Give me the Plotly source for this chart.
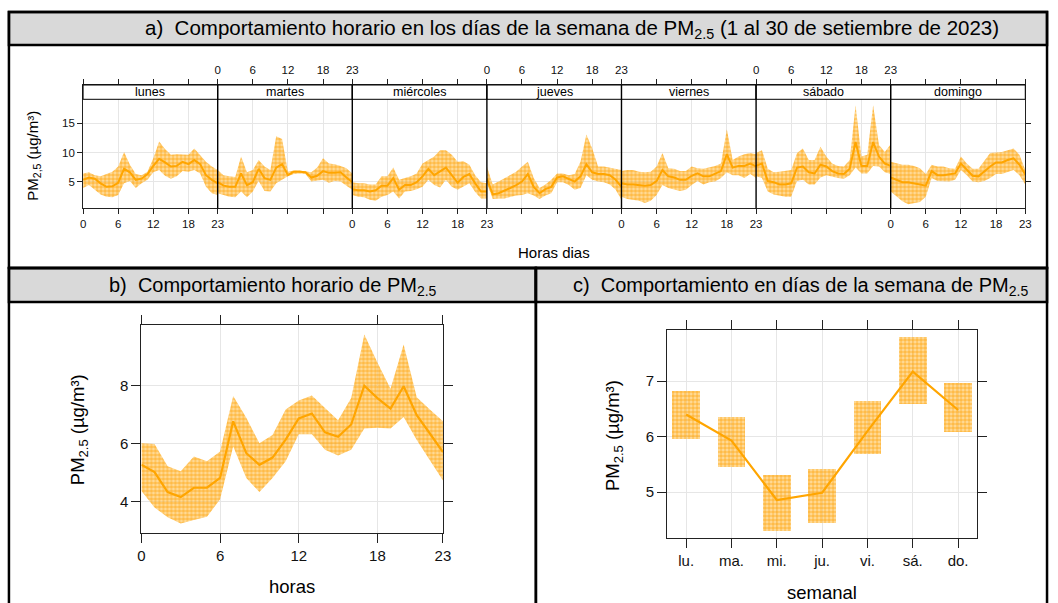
import plotly.graph_objects as go

# ---------------- data ----------------
horas = list(range(24))
dias_semana = ["lunes", "martes", "miércoles", "jueves", "viernes", "sábado", "domingo"]
tick_horas = [0, 6, 12, 18, 23]

lunes_mean = [5.3, 5.7, 5.5, 4.7, 4.1, 4.2, 4.8, 7.2, 6.6, 5.3, 5.5, 6.3, 7.7, 8.9, 8.3, 7.6, 7.7, 8.4, 8.0, 8.7, 8.0, 6.1, 5.3, 4.7]
lunes_low = [3.9, 4.4, 3.6, 2.8, 2.4, 2.3, 2.7, 4.7, 5.1, 3.9, 4.7, 5.3, 6.6, 7.0, 6.0, 5.5, 5.9, 6.8, 6.7, 7.0, 6.4, 4.1, 3.0, 2.7]
lunes_high = [6.4, 6.6, 6.1, 5.9, 6.3, 6.7, 7.6, 10.1, 7.9, 6.3, 6.1, 6.7, 9.0, 11.9, 10.6, 9.6, 9.7, 9.7, 9.6, 10.7, 9.6, 8.4, 7.6, 7.0]

martes_mean = [4.9, 4.3, 4.1, 4.1, 6.4, 4.4, 4.9, 7.2, 5.6, 5.3, 7.4, 8.0, 6.1, 6.7, 6.7, 6.6, 5.7, 6.0, 6.8, 6.5, 6.5, 6.6, 5.7, 4.9]
martes_low = [3.0, 2.7, 2.4, 2.3, 3.3, 2.3, 3.3, 5.1, 3.4, 3.3, 4.7, 5.3, 5.9, 6.3, 6.4, 6.3, 5.0, 5.1, 5.3, 4.8, 5.1, 5.0, 4.3, 3.6]
martes_high = [7.0, 6.1, 5.9, 5.8, 9.3, 6.6, 7.0, 8.7, 7.6, 7.0, 12.8, 12.3, 6.7, 6.9, 6.9, 6.8, 6.6, 7.4, 9.0, 8.1, 8.0, 7.7, 7.3, 6.4]

miercoles_mean = [3.7, 3.5, 3.5, 3.3, 3.5, 4.3, 4.3, 5.6, 3.6, 4.4, 4.4, 4.9, 5.9, 7.2, 6.1, 6.7, 7.4, 6.1, 4.8, 5.8, 6.3, 4.7, 3.3, 3.3]
miercoles_low = [2.7, 2.4, 2.3, 1.9, 1.7, 2.4, 2.7, 3.3, 2.1, 3.3, 3.4, 3.7, 4.1, 5.3, 4.4, 4.0, 5.3, 4.1, 3.6, 4.1, 4.7, 3.2, 2.1, 2.1]
miercoles_high = [4.9, 4.7, 4.7, 4.5, 4.5, 5.9, 5.9, 7.4, 5.3, 5.6, 5.9, 6.4, 8.1, 8.7, 9.3, 10.4, 10.4, 9.6, 8.4, 8.5, 7.9, 6.1, 4.9, 4.7]

jueves_mean = [5.5, 2.8, 3.0, 3.4, 3.9, 4.4, 5.0, 6.3, 4.1, 3.0, 3.7, 4.1, 5.7, 5.9, 5.5, 5.0, 5.9, 8.0, 6.6, 6.3, 6.3, 6.1, 5.3, 4.1]
jueves_low = [4.7, 2.0, 2.1, 2.1, 2.4, 2.6, 2.7, 3.0, 2.6, 2.0, 2.6, 3.0, 4.9, 4.9, 4.4, 3.6, 3.9, 6.1, 5.3, 5.0, 4.9, 4.5, 3.6, 1.9]
jueves_high = [7.6, 4.5, 5.0, 5.6, 6.1, 6.7, 7.6, 8.4, 5.6, 3.9, 4.5, 5.3, 6.4, 6.4, 6.1, 6.3, 8.4, 13.1, 10.7, 7.6, 7.6, 7.4, 7.2, 7.0]

viernes_mean = [4.7, 4.5, 4.5, 4.4, 4.3, 4.4, 5.1, 7.0, 5.9, 5.7, 5.3, 5.3, 6.0, 6.4, 5.9, 5.9, 6.3, 6.8, 9.7, 7.4, 7.7, 7.7, 8.1, 7.6]
viernes_low = [2.4, 2.0, 1.9, 1.7, 1.3, 1.7, 2.7, 4.4, 3.9, 3.7, 3.4, 3.6, 4.4, 5.1, 4.5, 4.9, 5.0, 5.6, 6.6, 6.1, 6.1, 5.6, 6.3, 5.6]
viernes_high = [6.8, 7.0, 7.0, 6.7, 6.6, 6.7, 7.6, 9.9, 7.3, 7.2, 6.8, 6.8, 7.6, 7.3, 7.2, 7.4, 7.7, 8.1, 14.0, 8.7, 9.3, 9.7, 9.9, 9.7]

sabado_mean = [7.7, 8.1, 5.1, 4.9, 4.5, 4.5, 4.7, 7.4, 7.6, 6.6, 6.4, 7.9, 7.6, 6.8, 6.4, 6.3, 7.2, 11.8, 7.7, 7.7, 11.8, 9.3, 8.1, 7.7]
sabado_low = [5.9, 5.6, 3.3, 2.8, 2.6, 2.4, 2.4, 5.1, 5.3, 4.5, 4.5, 5.7, 6.1, 5.9, 5.6, 5.5, 6.1, 7.4, 6.4, 6.4, 7.7, 7.6, 6.6, 6.3]
sabado_high = [9.9, 10.4, 7.2, 6.6, 6.7, 6.8, 7.0, 9.9, 10.7, 8.7, 8.7, 11.0, 9.3, 8.1, 7.7, 7.6, 8.7, 18.1, 9.3, 9.6, 18.1, 11.3, 10.1, 11.4]

domingo_mean = [5.7, 5.3, 4.9, 4.9, 4.7, 4.4, 4.3, 6.8, 6.1, 6.1, 6.3, 6.4, 8.1, 7.0, 6.0, 5.9, 6.8, 7.6, 8.3, 8.3, 8.7, 9.0, 7.9, 6.2]
domingo_low = [3.3, 2.4, 1.6, 1.1, 1.3, 1.5, 2.4, 5.6, 5.1, 5.0, 5.0, 5.3, 7.0, 6.1, 5.0, 4.9, 5.1, 5.6, 6.3, 6.3, 6.6, 7.0, 6.1, 4.5]
domingo_high = [8.4, 8.1, 7.9, 7.9, 7.7, 7.3, 6.3, 7.9, 7.6, 7.6, 7.3, 7.2, 9.3, 8.1, 7.2, 7.2, 8.5, 9.9, 10.0, 10.1, 10.4, 10.7, 9.6, 7.0]

hora_mean = [5.28, 5.03, 4.34, 4.17, 4.49, 4.49, 4.83, 6.78, 5.68, 5.28, 5.53, 6.15, 6.88, 7.05, 6.40, 6.25, 6.67, 8.01, 7.58, 7.22, 7.99, 6.99, 6.36, 5.72]
hora_low = [4.38, 3.81, 3.47, 3.26, 3.38, 3.49, 4.09, 5.91, 4.83, 4.34, 4.83, 5.40, 6.33, 6.33, 5.80, 5.60, 5.80, 6.53, 6.56, 6.53, 6.93, 6.14, 5.45, 4.74]
hora_high = [6.02, 6.00, 5.23, 5.06, 5.57, 5.40, 5.74, 7.65, 6.90, 6.02, 6.31, 7.19, 7.50, 7.67, 7.24, 6.82, 7.58, 9.77, 8.81, 7.90, 9.43, 7.61, 7.19, 6.78]

dias_abrev = ["lu.", "ma.", "mi.", "ju.", "vi.", "sá.", "do."]
dia_mean = [6.40, 5.93, 4.86, 4.99, 6.10, 7.17, 6.48]
dia_low = [5.96, 5.45, 4.31, 4.44, 5.68, 6.59, 6.09]
dia_high = [6.83, 6.35, 5.31, 5.42, 6.64, 7.79, 6.96]

semana_mean = [lunes_mean, martes_mean, miercoles_mean, jueves_mean, viernes_mean, sabado_mean, domingo_mean]
semana_low = [lunes_low, martes_low, miercoles_low, jueves_low, viernes_low, sabado_low, domingo_low]
semana_high = [lunes_high, martes_high, miercoles_high, jueves_high, viernes_high, sabado_high, domingo_high]

# ---------------- styling / layout helpers ----------------
W, H = 1058, 603


def fx(p):
    return p / W


def fy(p):
    return 1 - p / H


FONT = "Arial, 'Liberation Sans', sans-serif"
NARANJA = "#FFA500"
GRID = "#e6e6e6"
AXC = "#222222"
RELLENO = "rgba(255,185,60,0.55)"
PATRON = dict(shape="+", fgcolor="rgba(255,160,0,0.95)", bgcolor=RELLENO,
              size=4, solidity=0.3, fillmode="replace")

fig = go.Figure()
shapes = []
annots = []


def add_text(text, x, y, size, angle=0):
    annots.append(dict(text=text, x=fx(x), y=fy(y), xref="paper", yref="paper",
                       showarrow=False, xanchor="center", yanchor="middle",
                       textangle=angle, font=dict(family=FONT, size=size, color="#000")))


def add_rect(x0, y0, x1, y1, fill=None, lw=2.5, layer="above"):
    shapes.append(dict(type="rect", xref="paper", yref="paper",
                       x0=fx(x0), x1=fx(x1), y0=fy(y1), y1=fy(y0),
                       line=dict(color="black", width=lw),
                       fillcolor=fill if fill else "rgba(0,0,0,0)", layer=layer))


# ---------------- panel a ----------------
A_L, A_R = 80, 1033
A_B, A_PT, A_ST = 208.3, 99.3, 85
pw = (A_R - A_L) / 7
ya_min, ya_top = 0.41, 19.14
ya_max = ya_top + (A_PT - A_ST) * (ya_top - ya_min) / (A_B - A_PT)

layout_axes = {}
for i, dia in enumerate(dias_semana):
    xn = "x" if i == 0 else f"x{i + 1}"
    yn = "y2" if i == 6 else "y"
    hi, lo, me = semana_high[i], semana_low[i], semana_mean[i]
    fig.add_trace(go.Scatter(x=horas + horas[::-1], y=hi + lo[::-1], fill="toself",
                             fillcolor=RELLENO, fillpattern=PATRON,
                             line=dict(width=0), mode="lines", hoverinfo="skip",
                             showlegend=False, xaxis=xn, yaxis=yn))
    fig.add_trace(go.Scatter(x=horas, y=me, mode="lines", line=dict(color=NARANJA, width=2),
                             showlegend=False, xaxis=xn, yaxis=yn))
    key = "xaxis" if i == 0 else f"xaxis{i + 1}"
    layout_axes[key] = dict(
        domain=[fx(A_L + i * pw), fx(A_L + (i + 1) * pw)], range=[0, 23],
        tickvals=tick_horas, side="bottom" if i % 2 == 0 else "top",
        anchor=yn, ticks="outside", ticklen=5, tickcolor=AXC, mirror="ticks",
        showline=True, linecolor=AXC, linewidth=1, showgrid=True, gridcolor=GRID,
        zeroline=False, tickfont=dict(family=FONT, size=11.5, color="#111"), fixedrange=True)
    # strip
    add_rect(A_L + i * pw, A_ST, A_L + (i + 1) * pw, A_PT, fill="white", lw=1)
    add_text(dia, A_L + (i + 0.5) * pw, 92, 12.5)
    if i > 0:
        shapes.append(dict(type="line", xref="paper", yref="paper",
                           x0=fx(A_L + i * pw), x1=fx(A_L + i * pw), y0=fy(A_B), y1=fy(A_ST),
                           line=dict(color="black", width=1.4), layer="above"))

layout_axes["yaxis"] = dict(domain=[fy(A_B), fy(A_ST)], range=[ya_min, ya_max], anchor="x",
                            side="left", tickvals=[5, 10, 15], ticks="outside", ticklen=5,
                            tickcolor=AXC, showline=True, linecolor=AXC, linewidth=1,
                            showgrid=True, gridcolor=GRID, zeroline=False,
                            tickfont=dict(family=FONT, size=11.5, color="#111"), fixedrange=True)
layout_axes["yaxis2"] = dict(domain=[fy(A_B), fy(A_ST)], range=[ya_min, ya_max], matches="y",
                             anchor="x7", side="right", tickvals=[5, 10, 15], ticks="outside",
                             ticklen=5, tickcolor=AXC, showline=True, linecolor=AXC, linewidth=1,
                             showgrid=True, gridcolor=GRID, zeroline=False,
                             showticklabels=False, fixedrange=True)

add_text("PM<sub>2,5</sub> (µg/m³)", 30, 156, 15, angle=-90)
add_text("Horas dias", 556, 252, 15)

# ---------------- panel b ----------------
fig.add_trace(go.Scatter(x=horas + horas[::-1], y=hora_high + hora_low[::-1], fill="toself",
                         fillcolor=RELLENO, fillpattern=PATRON,
                         line=dict(width=0), mode="lines", hoverinfo="skip",
                         showlegend=False, xaxis="x8", yaxis="y8"))
fig.add_trace(go.Scatter(x=horas, y=hora_mean, mode="lines", line=dict(color=NARANJA, width=2.2),
                         showlegend=False, xaxis="x8", yaxis="y8"))
layout_axes["xaxis8"] = dict(domain=[fx(139), fx(444)], range=[0, 23], tickvals=tick_horas,
                             anchor="y8", ticks="outside", ticklen=9, tickcolor=AXC,
                             mirror="ticks", showline=True, linecolor=AXC, linewidth=1,
                             showgrid=True, gridcolor=GRID, zeroline=False,
                             tickfont=dict(family=FONT, size=15, color="#111"), fixedrange=True)
layout_axes["yaxis8"] = dict(domain=[fy(533), fy(325)], range=[2.93, 10.1], tickvals=[4, 6, 8],
                             anchor="x8", ticks="outside", ticklen=9, tickcolor=AXC,
                             mirror="ticks", showline=True, linecolor=AXC, linewidth=1,
                             showgrid=True, gridcolor=GRID, zeroline=False,
                             tickfont=dict(family=FONT, size=15, color="#111"), fixedrange=True)
add_text("PM<sub>2.5</sub> (µg/m³)", 76, 430, 18.5, angle=-90)
add_text("horas", 291, 586, 18.5)

# ---------------- panel c ----------------
fig.add_trace(go.Bar(x=dias_abrev, y=[h - l for h, l in zip(dia_high, dia_low)], base=dia_low,
                     width=0.61, marker=dict(color=RELLENO, pattern=PATRON,
                                             line=dict(width=0)),
                     hoverinfo="skip", showlegend=False, xaxis="x9", yaxis="y9"))
fig.add_trace(go.Scatter(x=dias_abrev, y=dia_mean, mode="lines", line=dict(color=NARANJA, width=2.2),
                         showlegend=False, xaxis="x9", yaxis="y9"))
layout_axes["xaxis9"] = dict(domain=[fx(670.7), fx(984.3)], range=[-0.42, 6.42], type="category",
                             anchor="y9", ticks="outside", ticklen=9, tickcolor=AXC,
                             mirror="ticks", showline=True, linecolor=AXC, linewidth=1,
                             showgrid=True, gridcolor=GRID, zeroline=False,
                             tickfont=dict(family=FONT, size=15, color="#111"), fixedrange=True)
layout_axes["yaxis9"] = dict(domain=[fy(538.3), fy(330)], range=[4.17, 7.92], tickvals=[5, 6, 7],
                             anchor="x9", ticks="outside", ticklen=9, tickcolor=AXC,
                             mirror="ticks", showline=True, linecolor=AXC, linewidth=1,
                             showgrid=True, gridcolor=GRID, zeroline=False,
                             tickfont=dict(family=FONT, size=15, color="#111"), fixedrange=True)
add_text("PM<sub>2.5</sub> (µg/m³)", 617, 436, 18.5, angle=-90)
add_text("semanal", 827, 592, 18.5)

# ---------------- frames & titles ----------------
add_rect(5, 12, 1055, 45, fill="#d9d9d9", lw=2.5, layer="below")
add_rect(5, 12, 1055, 268, lw=2.5)
add_rect(5, 268, 538, 302, fill="#d9d9d9", lw=2.5, layer="below")
add_rect(538, 268, 1055, 302, fill="#d9d9d9", lw=2.5, layer="below")
add_rect(5, 268, 538, 640, lw=2.5)
add_rect(538, 268, 1055, 640, lw=2.5)

add_text("a)\u00a0\u00a0Comportamiento horario en los días de la semana de PM<sub>2.5</sub> "
         "(1 al 30 de setiembre de 2023)", 575, 29, 20.5)
add_text("b)\u00a0\u00a0Comportamiento horario de PM<sub>2.5</sub>", 272, 286, 20)
add_text("c)\u00a0\u00a0Comportamiento en días de la semana de PM<sub>2.5</sub>", 806, 286, 20)

fig.update_layout(width=W, height=H, margin=dict(l=0, r=0, t=0, b=0),
                  paper_bgcolor="white", plot_bgcolor="white", showlegend=False,
                  font=dict(family=FONT, color="#000"), shapes=shapes, annotations=annots,
                  bargap=0, **layout_axes)

fig.write_html("out.html", config={"displayModeBar": False},
               post_script="document.body.style.margin='0';document.body.style.overflow='hidden';")
